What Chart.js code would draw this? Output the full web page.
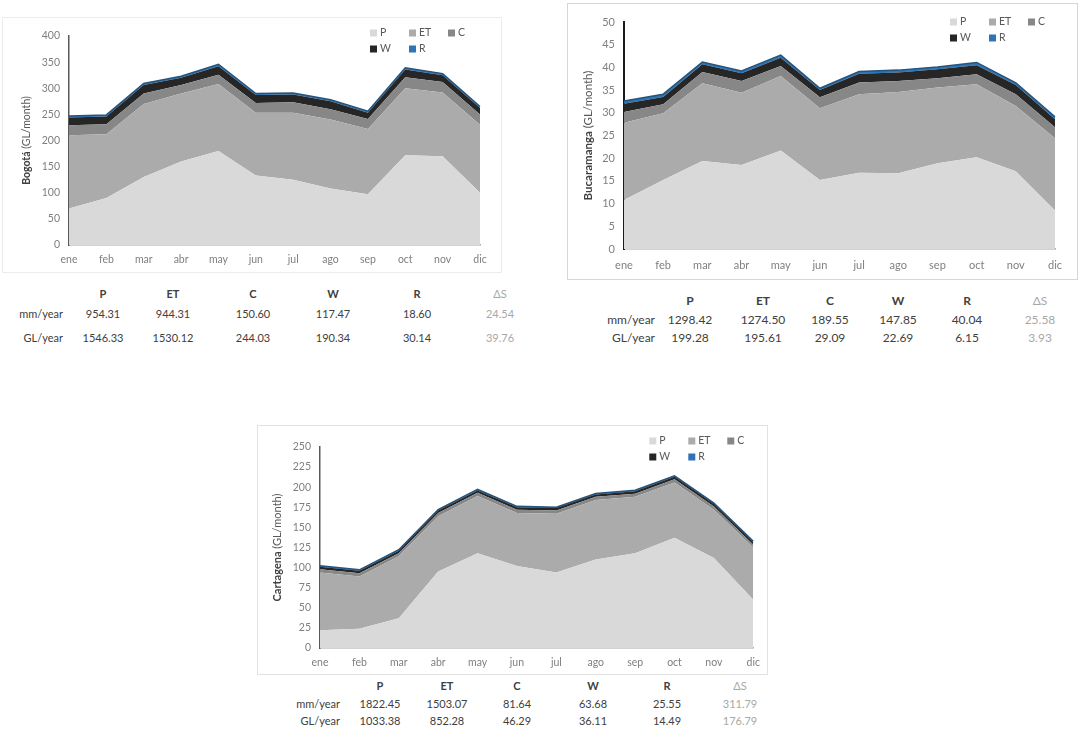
<!DOCTYPE html>
<html>
<head>
<meta charset="utf-8">
<script src="https://cdn.jsdelivr.net/npm/chart.js@4.4.1/dist/chart.umd.min.js"></script>
<style>
  body { margin: 0; background: #fff; font-family: Lato, sans-serif; }
  #page { position: relative; width: 1089px; height: 734px; overflow: hidden; }
  .panel { position: absolute; border: 1px solid #e2e2e2; box-sizing: border-box; background: #fff; }
  canvas { position: absolute; }
  .cell { position: absolute; font-size: 11px; color: #404040; white-space: nowrap; transform: translate(-50%, -50%); }
  .cell.hd { font-weight: bold; }
  .cell.ds { color: #a8a8a8; font-weight: normal; }
  .cell.lbl { transform: translate(-100%, -50%); }
</style>
</head>
<body>
<div id="page"></div>
<script>
// categorías y series
const months = ['ene', 'feb', 'mar', 'abr', 'may', 'jun', 'jul', 'ago', 'sep', 'oct', 'nov', 'dic'];
const seriesNames = ['P', 'ET', 'C', 'W', 'R'];
const seriesColors = ['#d9d9d9', '#ababab', '#878787', '#262626', '#2e75b6'];

// Bogotá (GL/month)
const bogotaP  = [70, 90, 130, 160, 180, 133, 125, 108, 97, 172, 170, 100];
const bogotaET = [140, 122, 140, 130, 128, 120, 128, 132, 125, 128, 122, 130];
const bogotaC  = [19, 19, 20, 16, 18, 19, 20, 20, 19, 21, 20, 20];
const bogotaW  = [15, 15, 16, 14, 16, 15, 15, 15, 12, 15, 13, 12];
const bogotaR  = [3, 3, 3, 3, 4, 3, 3, 3, 3, 3, 3, 3];

// Bucaramanga (GL/month)
const bucaP  = [10.8, 15.2, 19.4, 18.5, 21.7, 15.2, 16.8, 16.7, 18.9, 20.2, 17.1, 8.5];
const bucaET = [17.0, 14.7, 17.1, 15.9, 16.4, 15.8, 17.3, 17.9, 16.7, 16.1, 14.4, 15.9];
const bucaC  = [2.4, 2.0, 2.5, 2.6, 2.2, 2.4, 2.6, 2.4, 2.0, 2.2, 2.6, 2.4];
const bucaW  = [1.8, 1.6, 1.7, 1.7, 1.8, 1.6, 1.9, 1.9, 2.0, 2.0, 2.0, 1.8];
const bucaR  = [0.6, 0.6, 0.5, 0.5, 0.6, 0.4, 0.5, 0.5, 0.5, 0.6, 0.5, 0.5];

// Cartagena (GL/month)
const cartP  = [22, 24, 37, 95, 118, 102, 94, 110, 118, 137, 112, 60];
const cartET = [72, 65, 77, 69, 71, 66, 73, 74, 70, 69, 60, 65];
const cartC  = [4, 4, 4, 4, 4, 4, 4, 4, 4, 4, 4, 3.5];
const cartW  = [3, 3, 3, 3, 3, 3, 3, 3, 3, 3, 3, 3];
const cartR  = [1.2, 1.2, 1.2, 1.2, 1.2, 1.2, 1.2, 1.2, 1.2, 1.2, 1.2, 1.2];

// tablas anuales
const tableCols = ['P', 'ET', 'C', 'W', 'R', 'ΔS'];
const rowLabels = ['mm/year', 'GL/year'];
const bogotaMm = ['954.31', '944.31', '150.60', '117.47', '18.60', '24.54'];
const bogotaGl = ['1546.33', '1530.12', '244.03', '190.34', '30.14', '39.76'];
const bucaMm = ['1298.42', '1274.50', '189.55', '147.85', '40.04', '25.58'];
const bucaGl = ['199.28', '195.61', '29.09', '22.69', '6.15', '3.93'];
const cartMm = ['1822.45', '1503.07', '81.64', '63.68', '25.55', '311.79'];
const cartGl = ['1033.38', '852.28', '46.29', '36.11', '14.49', '176.79'];

const page = document.getElementById('page');

// titulo del eje y (ciudad en negrita) y leyenda en dos filas
const panelDecor = {
  id: 'panelDecor',
  afterDraw(chart, args, opts) {
    const ctx = chart.ctx, area = chart.chartArea;
    const fs = opts.titleSize;
    ctx.save();
    ctx.translate(area.left - opts.titleGap, (area.top + area.bottom) / 2);
    ctx.rotate(-Math.PI / 2);
    ctx.textBaseline = 'middle';
    ctx.fillStyle = '#404040';
    ctx.font = 'bold ' + fs + 'px Lato';
    const w1 = ctx.measureText(opts.city + ' ').width;
    ctx.font = fs + 'px Lato';
    const w2 = ctx.measureText('(GL/month)').width;
    const x0 = -(w1 + w2) / 2;
    ctx.font = 'bold ' + fs + 'px Lato';
    ctx.fillText(opts.city + ' ', x0, 0);
    ctx.font = fs + 'px Lato';
    ctx.fillStyle = '#595959';
    ctx.fillText('(GL/month)', x0 + w1, 0);
    ctx.restore();

    ctx.save();
    ctx.font = '10.5px Lato';
    ctx.textBaseline = 'middle';
    chart.data.datasets.forEach((ds, i) => {
      const x = area.right + opts.legendX + (i % 3) * opts.legendGap;
      const y = area.top + opts.legendY + Math.floor(i / 3) * opts.legendRow;
      ctx.fillStyle = ds.backgroundColor;
      ctx.fillRect(x, y - 3.5, 7, 7);
      ctx.fillStyle = '#595959';
      ctx.fillText(ds.label, x + 10, y);
    });
    ctx.restore();
  }
};

function makeChart(cfg) {
  const panel = document.createElement('div');
  panel.className = 'panel';
  Object.assign(panel.style, { left: cfg.left + 'px', top: cfg.top + 'px', width: cfg.width + 'px', height: cfg.height + 'px', borderColor: cfg.frame });
  page.appendChild(panel);
  const canvas = document.createElement('canvas');
  canvas.width = cfg.width;
  canvas.height = cfg.height;
  canvas.style.left = cfg.left + 'px';
  canvas.style.top = cfg.top + 'px';
  page.appendChild(canvas);

  const datasets = cfg.series.map((vals, i) => ({
    label: seriesNames[i],
    data: vals,
    backgroundColor: seriesColors[i],
    borderColor: i === 4 ? '#24557f' : seriesColors[i],
    borderWidth: i === 4 ? 1.5 : 0,
    pointRadius: 0,
    tension: 0,
    fill: i === 0 ? 'origin' : '-1'
  }));

  return new Chart(canvas, {
    type: 'line',
    data: { labels: months, datasets: datasets },
    options: {
      responsive: false,
      animation: false,
      layout: { padding: cfg.padding },
      plugins: {
        legend: { display: false },
        tooltip: { enabled: false },
        panelDecor: { city: cfg.city, titleSize: cfg.titleSize, titleGap: cfg.titleGap, legendX: cfg.legendX, legendY: cfg.legendY, legendGap: 39, legendRow: 16 }
      },
      scales: {
        x: {
          grid: { display: false, drawTicks: false },
          border: { color: '#a6a6a6', width: 1.5 },
          ticks: { color: '#7f7f7f', font: { family: 'Lato', size: cfg.tickSize }, padding: cfg.xPad, maxRotation: 0, autoSkip: false },
          afterFit: s => { s.height = cfg.xHeight; }
        },
        y: {
          stacked: true,
          min: 0,
          max: cfg.max,
          grid: { display: false, drawTicks: false },
          border: { color: cfg.yLine, width: cfg.yLineWidth },
          ticks: { stepSize: cfg.step, color: '#7f7f7f', font: { family: 'Lato', size: cfg.tickSize }, padding: 9 },
          afterFit: s => { s.width = cfg.yWidth; }
        }
      }
    },
    plugins: [panelDecor]
  });
}

function makeTable(t) {
  const rows = [tableCols, t.mm, t.gl];
  rows.forEach((row, r) => {
    if (r > 0) {
      const l = document.createElement('div');
      l.className = 'cell lbl';
      l.textContent = rowLabels[r - 1];
      l.style.left = t.labelRight + 'px';
      l.style.top = t.rows[r] + 'px';
      l.style.fontSize = t.size + 'px';
      page.appendChild(l);
    }
    row.forEach((v, c) => {
      const d = document.createElement('div');
      d.className = 'cell' + (r === 0 ? ' hd' : '') + (c === 5 ? ' ds' : '');
      d.textContent = v;
      d.style.left = t.cols[c] + 'px';
      d.style.top = t.rows[r] + 'px';
      d.style.fontSize = t.size + 'px';
      page.appendChild(d);
    });
  });
}

makeChart({
  city: 'Bogotá', series: [bogotaP, bogotaET, bogotaC, bogotaW, bogotaR], max: 400, step: 50,
  left: 2, top: 17, width: 500, height: 256, frame: '#ececec',
  padding: { left: 27, right: 22, top: 19, bottom: 4 }, yWidth: 40, xHeight: 24, xPad: 8, tickSize: 10.5,
  yLine: '#595959', yLineWidth: 1.5,
  titleSize: 10.5, titleGap: 42, legendX: -110, legendY: -3
});
makeChart({
  city: 'Bucaramanga', series: [bucaP, bucaET, bucaC, bucaW, bucaR], max: 50, step: 5,
  left: 567, top: 3, width: 511, height: 277, frame: '#d6d6d6',
  padding: { left: 21, right: 23, top: 19, bottom: 7 }, yWidth: 36, xHeight: 24, xPad: 10, tickSize: 11,
  yLine: '#1a1a1a', yLineWidth: 2,
  titleSize: 11.5, titleGap: 36, legendX: -105, legendY: 0
});
makeChart({
  city: 'Cartagena', series: [cartP, cartET, cartC, cartW, cartR], max: 250, step: 25,
  left: 257, top: 425, width: 511, height: 250, frame: '#e2e2e2',
  padding: { left: 23, right: 14, top: 22, bottom: 5 }, yWidth: 40, xHeight: 22, xPad: 8, tickSize: 10.5,
  yLine: '#595959', yLineWidth: 1.5,
  titleSize: 11, titleGap: 43, legendX: -104, legendY: -6
});

makeTable({ mm: bogotaMm, gl: bogotaGl, labelRight: 63, cols: [103, 173, 253, 333, 417, 500], rows: [293, 313, 337], size: 11 });
makeTable({ mm: bucaMm, gl: bucaGl, labelRight: 655, cols: [690, 763, 830, 898, 967, 1040], rows: [300, 319, 337], size: 12 });
makeTable({ mm: cartMm, gl: cartGl, labelRight: 340, cols: [380, 447, 517, 593, 667, 740], rows: [685, 703, 720], size: 11 });
</script>
</body>
</html>
